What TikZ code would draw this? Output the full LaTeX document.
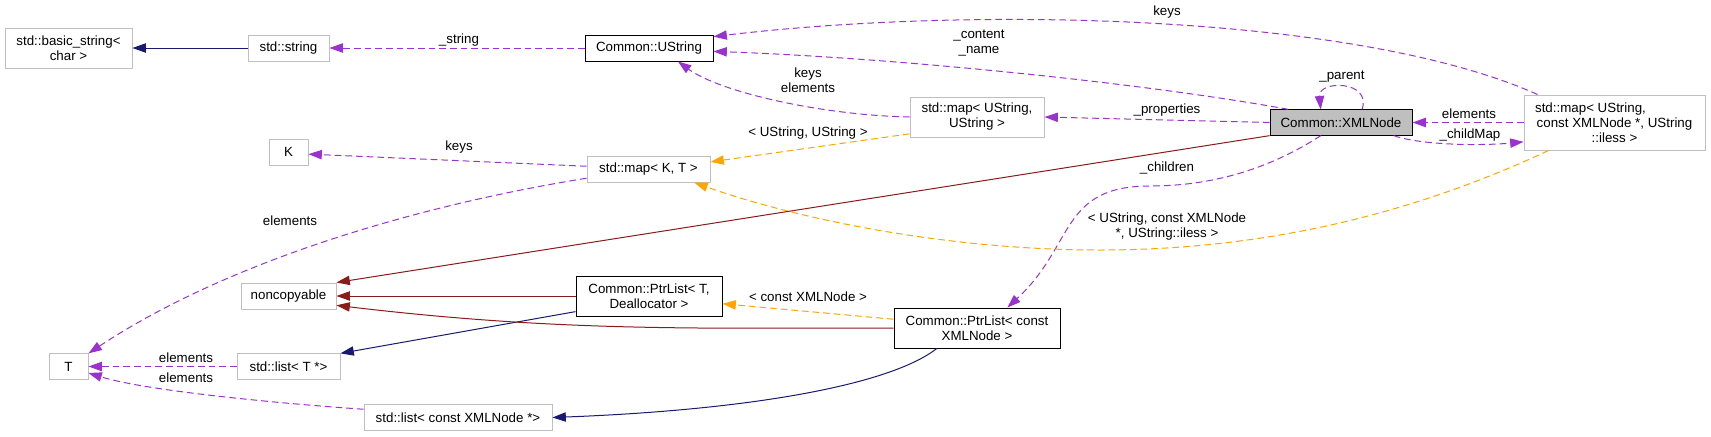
\documentclass[tikz,border=0pt]{standalone}
\usepackage{fontspec}
\setmainfont{Liberation Sans}
\usetikzlibrary{arrows.meta}

\definecolor{usecol}{HTML}{9A32CD}
\definecolor{tplcol}{HTML}{FFA500}
\definecolor{pubcol}{HTML}{191970}
\definecolor{privcol}{HTML}{8B1A1A}
\definecolor{boxgray}{HTML}{BFBFBF}

\begin{document}
\begin{tikzpicture}[x=0.75pt,y=-0.75pt,
  font=\fontsize{10}{11.25}\selectfont,
  every node/.style={align=center,inner sep=0pt},
  cls/.style={draw=boxgray,fill=white,line width=0.75pt},
  doc/.style={draw=black,fill=white,line width=0.75pt},
  cur/.style={draw=black,fill=boxgray,line width=0.75pt},
  rel/.style={line width=0.75pt,-{Triangle[length=10pt,width=7pt]}},
  usage/.style={rel,draw=usecol,dash pattern=on 5pt off 3pt},
  tpl/.style={rel,draw=tplcol,dash pattern=on 5pt off 3pt},
  pub/.style={rel,draw=pubcol},
  priv/.style={rel,draw=privcol}]
\useasboundingbox (0,0) rectangle (1711,436);

  % classes
  \node[cls,minimum width=95.25pt,minimum height=30pt] (basicstr) at (68.5,48) {std::basic\_string<\\char >};
  \node[cls,minimum width=60.75pt,minimum height=19.5pt] (stdstr) at (288.5,48) {std::string};
  \node[doc,minimum width=96pt,minimum height=19.5pt] (ustring) at (649,48) {Common::UString};
  \node[cls,minimum width=29.25pt,minimum height=19.5pt] (knode) at (288.5,152) {K};
  \node[cls,minimum width=92.25pt,minimum height=19pt] (mapkt) at (648.5,169.5) {std::map< K, T >};
  \node[cls,minimum width=100.5pt,minimum height=30pt] (mapuu) at (977,117) {std::map< UString,\\UString >};
  \node[cur,minimum width=106.5pt,minimum height=19pt] (xmlnode) at (1341,122.5) {Common::XMLNode};
  \node[cls,minimum width=135.75pt,minimum height=41.25pt] (mapil) at (1614.5,122.5) {std::map< UString,\rule{36pt}{0pt}\\const XMLNode *, UString\\::iless >};
  \node[cls,minimum width=71.25pt,minimum height=19.5pt] (noncopy) at (288.5,296) {noncopyable};
  \node[doc,minimum width=109.5pt,minimum height=30pt] (ptrtd) at (649,296) {Common::PtrList< T,\\Deallocator >};
  \node[doc,minimum width=124.5pt,minimum height=30pt] (ptrcx) at (977,328) {Common::PtrList< const\\XMLNode >};
  \node[cls,minimum width=29.25pt,minimum height=19pt] (tnode) at (68.5,366.5) {T};
  \node[cls,minimum width=77.25pt,minimum height=19pt] (listt) at (288.5,366.5) {std::list< T *>};
  \node[cls,minimum width=141pt,minimum height=19pt] (listcx) at (458,417.5) {std::list< const XMLNode *>};

  % usage
  \draw[usage] (ustring.west) -- (stdstr.east);
  \draw[usage] (xmlnode.166) .. controls (1150,84) and (900,58) .. (ustring.-3);
  \draw[usage] (mapil.160) .. controls (1360,15) and (980,5) .. (ustring.10);
  \draw[usage] (mapuu.west) .. controls (820,115) and (720,92) .. (ustring.-25);
  \draw[usage] (xmlnode.west) -- (mapuu.east);
  \draw[usage] (mapil.west) -- (xmlnode.east);
  \draw[usage] (xmlnode.-14) .. controls (1420,145) and (1480,146) .. (mapil.192);
  \draw[usage] (xmlnode.32) .. controls (1372,80) and (1318,80) .. (xmlnode.147);
  \draw[usage] (xmlnode.213) .. controls (1260,175) and (1200,186) .. (1150,186)
     .. controls (1060,186) and (1075,245) .. (ptrcx.34);
  \draw[usage] (mapkt.177) -- (knode.-6);
  \draw[usage] (mapkt.188) .. controls (420,205) and (230,260) .. (tnode.north east);
  \draw[usage] (listt.west) -- (tnode.east);
  \draw[usage] (listcx.175) .. controls (300,405) and (150,392) .. (tnode.-18);

  % templates
  \draw[tpl] (mapuu.194) -- (mapkt.7);
  \draw[tpl] (mapil.203) .. controls (1400,220) and (1250,250) .. (1100,250)
     .. controls (950,250) and (800,220) .. (mapkt.-16);
  \draw[tpl] (ptrcx.174) -- (ptrtd.-6);

  % inheritance
  \draw[pub] (stdstr) -- (basicstr);
  \draw[pub] (ptrtd.192) -- (listt.north east);
  \draw[pub] (ptrcx.207) .. controls (890,385) and (750,410) .. (listcx.east);
  \draw[priv] (xmlnode.south west) -- (noncopy.north east);
  \draw[priv] (ptrtd.west) -- (noncopy.east);
  \draw[priv] (ptrcx.west) .. controls (700,328) and (560,332) .. (noncopy.-11);

  % labels
  \node (lstring) at (459,40) {\_string};
  \node (lcontent) at (979,43) {\_content\\\_name};
  \node (lkeystop) at (1167,12) {keys};
  \node (lkeyselem) at (808,80) {keys\\elements};
  \node (lprops) at (1167,110) {\_properties};
  \node (lelemxml) at (1469,114) {elements};
  \node (lchildmap) at (1470,135) {\_childMap};
  \node (lparent) at (1342,77) {\_parent};
  \node (lchildren) at (1167,168) {\_children};
  \node (liless) at (1167,227) {< UString, const XMLNode\\*, UString::iless >};
  \node (luu) at (808,133) {< UString, UString >};
  \node (lkeysk) at (459,147) {keys};
  \node (lelemt) at (290,221) {elements};
  \node (lconst) at (808,297) {< const XMLNode >};
  \node (lelemlist) at (186,358) {elements};
  \node (lelemcx) at (186,378) {elements};
\end{tikzpicture}
\end{document}
